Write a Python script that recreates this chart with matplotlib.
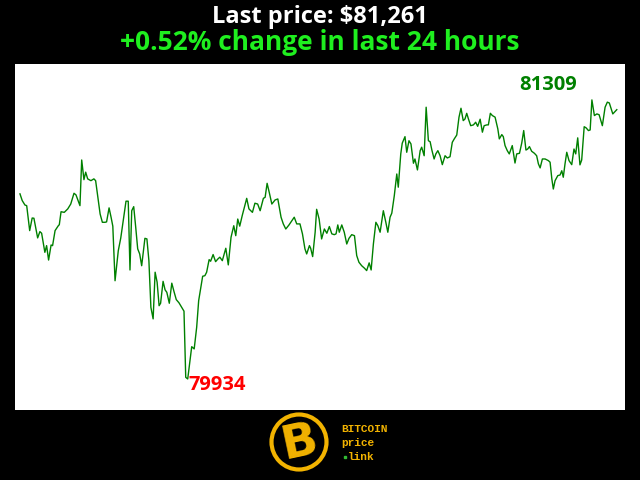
import matplotlib
matplotlib.use('Agg')
import matplotlib.pyplot as plt
from matplotlib.patches import Circle

# hours into the 24h window, and BTC price (USD)
hours = [0.02, 0.11, 0.22, 0.29, 0.41, 0.51, 0.58, 0.73, 0.82, 0.89,
         1.02, 1.09, 1.17, 1.27, 1.33, 1.43, 1.56, 1.60, 1.67, 1.80,
         1.94, 2.06, 2.19, 2.27, 2.43, 2.50, 2.59, 2.66, 2.74, 2.87,
         2.99, 3.06, 3.14, 3.24, 3.33, 3.44, 3.50, 3.60, 3.68, 3.75,
         3.84, 3.97, 4.07, 4.17, 4.28, 4.37, 4.44, 4.51, 4.59, 4.67,
         4.75, 4.83, 4.91, 5.04, 5.12, 5.20, 5.28, 5.37, 5.45, 5.53,
         5.61, 5.67, 5.77, 5.85, 5.92, 6.02, 6.12, 6.21, 6.30, 6.41,
         6.52, 6.61, 6.68, 6.76, 6.81, 6.92, 7.02, 7.12, 7.20, 7.29,
         7.36, 7.45, 7.52, 7.62, 7.68, 7.78, 7.88, 7.97, 8.05, 8.15,
         8.29, 8.39, 8.50, 8.61, 8.69, 8.77, 8.85, 8.95, 9.13, 9.22,
         9.36, 9.46, 9.57, 9.67, 9.80, 9.87, 9.95, 10.04, 10.14, 10.27,
         10.38, 10.51, 10.60, 10.70, 10.83, 11.04, 11.14, 11.27, 11.37, 11.47,
         11.54, 11.65, 11.70, 11.78, 11.88, 11.94, 12.04, 12.14, 12.25, 12.35,
         12.45, 12.55, 12.65, 12.72, 12.79, 12.85, 12.95, 13.05, 13.15, 13.24,
         13.35, 13.46, 13.55, 13.64, 13.75, 13.86, 13.95, 14.05, 14.13, 14.22,
         14.32, 14.40, 14.49, 14.62, 14.72, 14.80, 14.89, 14.96, 15.06, 15.16,
         15.22, 15.32, 15.38, 15.49, 15.56, 15.65, 15.73, 15.83, 15.89, 15.99,
         16.10, 16.16, 16.26, 16.34, 16.43, 16.50, 16.57, 16.66, 16.73, 16.81,
         16.90, 16.99, 17.10, 17.19, 17.30, 17.39, 17.47, 17.57, 17.66, 17.74,
         17.83, 17.90, 17.97, 18.04, 18.13, 18.24, 18.33, 18.41, 18.51, 18.60,
         18.67, 18.78, 18.84, 18.92, 19.00, 19.11, 19.22, 19.28, 19.38, 19.44,
         19.51, 19.60, 19.68, 19.80, 19.91, 19.98, 20.09, 20.18, 20.26, 20.35,
         20.42, 20.49, 20.58, 20.69, 20.78, 20.85, 20.92, 21.01, 21.12, 21.25,
         21.32, 21.39, 21.45, 21.52, 21.63, 21.72, 21.79, 21.85, 21.92, 21.99,
         22.08, 22.19, 22.28, 22.35, 22.43, 22.52, 22.59, 22.69, 22.77, 22.86,
         22.93, 23.00, 23.10, 23.20, 23.29, 23.42, 23.53, 23.62, 23.70, 23.84,
         24.00]
prices = [80846, 80813, 80791, 80788, 80665, 80727, 80726, 80629, 80660, 80652,
          80558, 80591, 80520, 80594, 80591, 80665, 80689, 80694, 80758, 80755,
          80772, 80796, 80849, 80841, 80788, 81013, 80916, 80953, 80920, 80911,
          80920, 80911, 80837, 80747, 80706, 80706, 80708, 80777, 80731, 80687,
          80418, 80566, 80629, 80714, 80810, 80810, 80471, 80763, 80783, 80682,
          80575, 80550, 80492, 80627, 80624, 80517, 80287, 80230, 80460, 80411,
          80295, 80307, 80415, 80373, 80361, 80307, 80406, 80364, 80325, 80309,
          80287, 80268, 79942, 79934, 79983, 80093, 80082, 80189, 80320, 80386,
          80440, 80443, 80460, 80522, 80514, 80547, 80512, 80525, 80534, 80517,
          80578, 80496, 80632, 80689, 80640, 80722, 80687, 80739, 80824, 80772,
          80755, 80800, 80796, 80763, 80824, 80829, 80898, 80851, 80796, 80816,
          80821, 80731, 80698, 80673, 80693, 80731, 80698, 80698, 80649, 80575,
          80550, 80591, 80578, 80537, 80657, 80770, 80722, 80624, 80673, 80652,
          80685, 80649, 80645, 80649, 80693, 80657, 80693, 80657, 80599, 80627,
          80645, 80640, 80542, 80509, 80492, 80480, 80468, 80506, 80471, 80599,
          80706, 80689, 80657, 80763, 80706, 80657, 80731, 80751, 80837, 80944,
          80879, 81043, 81096, 81128, 81051, 81108, 81092, 80997, 81018, 80964,
          81059, 81076, 81034, 81273, 81108, 81103, 81062, 81018, 81043, 81059,
          81034, 80990, 81034, 81023, 81029, 81100, 81117, 81136, 81224, 81268,
          81207, 81215, 81243, 81215, 81182, 81186, 81199, 81179, 81214, 81150,
          81182, 81186, 81186, 81243, 81232, 81224, 81166, 81117, 81138, 81128,
          81084, 81059, 81043, 81084, 80998, 81043, 81046, 81096, 81158, 81062,
          81067, 81079, 81056, 81046, 81034, 80994, 80974, 81018, 81018, 81010,
          81002, 80920, 80870, 80911, 80936, 80939, 80960, 80928, 80994, 81051,
          81010, 80990, 81067, 81043, 81122, 80989, 81013, 81177, 81171, 81158,
          81161, 81309, 81232, 81240, 81236, 81182, 81273, 81298, 81294, 81240,
          81261]

last_price = prices[-1]
change_pct = 0.52

fig = plt.figure(figsize=(6.4, 4.8), dpi=100, facecolor='black')

ax = fig.add_axes([15 / 640, 70 / 480, 610 / 640, 346 / 480])
ax.set_facecolor('white')
ax.plot(hours, prices, color='green', linewidth=1)
ax.set_xlim(-0.18, 24.33)
ax.set_ylim(79781, 81486)
ax.set_xticks([])
ax.set_yticks([])
for s in ax.spines.values():
    s.set_visible(False)

# min / max labels
i_min = prices.index(min(prices))
i_max = prices.index(max(prices))
ax.annotate(str(min(prices)), (hours[i_min], prices[i_min]),
            xytext=(1, -6), textcoords='offset pixels',
            ha='left', va='center', color='red', fontsize=14.5,
            fontweight='bold', family='Open Sans')
ax.annotate(str(max(prices)), (hours[i_max], prices[i_max]),
            xytext=(-44, 15), textcoords='offset pixels',
            ha='center', va='center', color='green', fontsize=14.5,
            fontweight='bold', family='Open Sans')

fig.text(0.5, 1 - 17 / 480, 'Last price: ${:,}'.format(last_price),
         ha='center', va='center', color='white', fontsize=17,
         fontweight='bold', family='Open Sans')
fig.text(0.5, 1 - 43 / 480, '+{:.2f}% change in last 24 hours'.format(change_pct),
         ha='center', va='center', color='#1fef1f', fontsize=19,
         fontweight='bold', family='Open Sans')

# logo at the bottom, in pixel units
lg = fig.add_axes([0, 0, 1, 70 / 480])
lg.set_xlim(0, 640)
lg.set_ylim(480, 410)
lg.axis('off')
gold = '#f2b300'
lg.add_patch(Circle((299, 442), 27.5, fill=False, edgecolor=gold, linewidth=3))
lg.text(300, 443, 'B', ha='center', va='center', color=gold, fontsize=34,
        fontweight='bold', family='DejaVu Sans', rotation=12)
lg.text(341, 429, 'BITCOIN', ha='left', va='center', color=gold, fontsize=8,
        fontweight='bold', family='Liberation Mono')
lg.text(341, 443, 'price', ha='left', va='center', color=gold, fontsize=8,
        fontweight='bold', family='Liberation Mono')
lg.text(348, 457, 'link', ha='left', va='center', color=gold, fontsize=8,
        fontweight='bold', family='Liberation Mono')
lg.plot([345], [457], 's', color='#33bb33', markersize=2)

fig.savefig('out.png', dpi=100, facecolor='black')
